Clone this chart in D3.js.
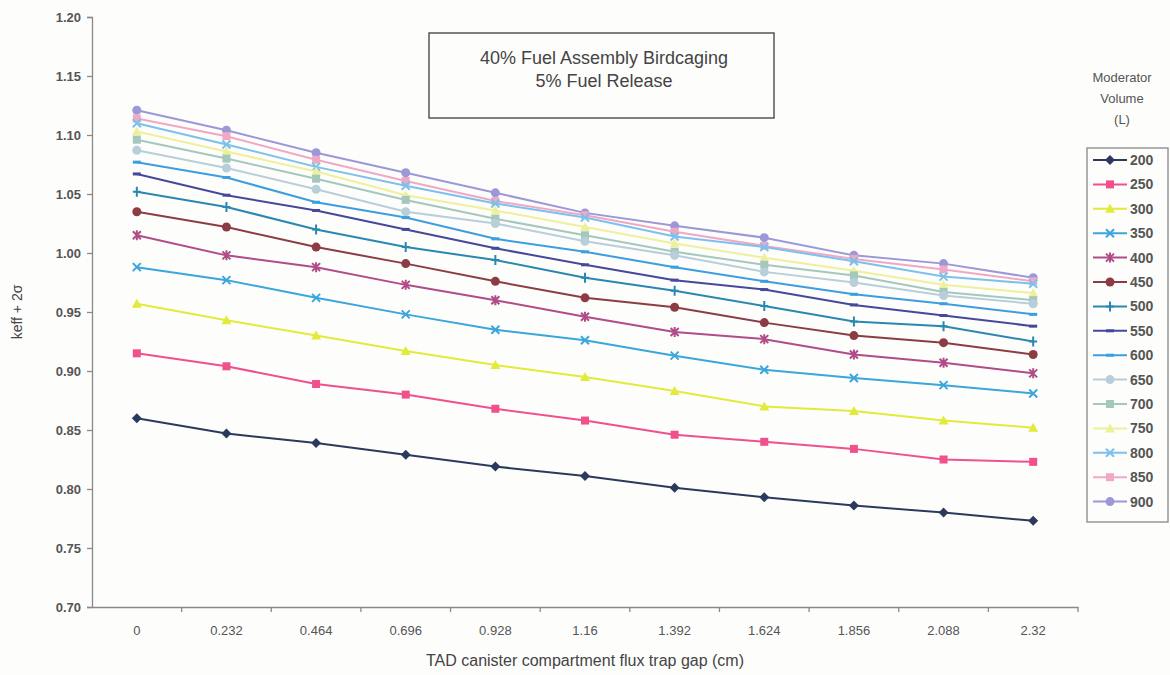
<!DOCTYPE html>
<html>
<head>
<meta charset="utf-8">
<script src="https://cdn.jsdelivr.net/npm/d3@7"></script>
<style>
  body { margin: 0; background: #fdfdfc; }
  svg { font-family: 'Liberation Sans', Arial, sans-serif; }
</style>
</head>
<body>
<div id="chart"></div>
<script>
// categories along x (flux trap gap, cm)
var gaps = ['0', '0.232', '0.464', '0.696', '0.928', '1.16', '1.392', '1.624', '1.856', '2.088', '2.32']
var yTicks = [0.70, 0.75, 0.80, 0.85, 0.90, 0.95, 1.00, 1.05, 1.10, 1.15, 1.20]

// moderator volumes (L)
var volumes = ['200', '250', '300', '350', '400', '450', '500', '550', '600', '650', '700', '750', '800', '850', '900']

// keff + 2 sigma, one array per moderator volume
var v200 = [0.860, 0.847, 0.839, 0.829, 0.819, 0.811, 0.801, 0.793, 0.786, 0.780, 0.773]
var v250 = [0.915, 0.904, 0.889, 0.880, 0.868, 0.858, 0.846, 0.840, 0.834, 0.825, 0.823]
var v300 = [0.957, 0.943, 0.930, 0.917, 0.905, 0.895, 0.883, 0.870, 0.866, 0.858, 0.852]
var v350 = [0.988, 0.977, 0.962, 0.948, 0.935, 0.926, 0.913, 0.901, 0.894, 0.888, 0.881]
var v400 = [1.015, 0.998, 0.988, 0.973, 0.960, 0.946, 0.933, 0.927, 0.914, 0.907, 0.898]
var v450 = [1.035, 1.022, 1.005, 0.991, 0.976, 0.962, 0.954, 0.941, 0.930, 0.924, 0.914]
var v500 = [1.052, 1.039, 1.020, 1.005, 0.994, 0.979, 0.968, 0.955, 0.942, 0.938, 0.925]
var v550 = [1.067, 1.049, 1.036, 1.020, 1.004, 0.990, 0.977, 0.969, 0.956, 0.947, 0.938]
var v600 = [1.077, 1.064, 1.043, 1.030, 1.012, 1.001, 0.988, 0.976, 0.965, 0.957, 0.948]
var v650 = [1.087, 1.072, 1.054, 1.035, 1.025, 1.010, 0.998, 0.984, 0.975, 0.964, 0.957]
var v700 = [1.096, 1.080, 1.063, 1.045, 1.029, 1.015, 1.001, 0.990, 0.981, 0.967, 0.960]
var v750 = [1.103, 1.086, 1.069, 1.049, 1.036, 1.022, 1.008, 0.996, 0.985, 0.973, 0.966]
var v800 = [1.110, 1.092, 1.073, 1.057, 1.042, 1.030, 1.014, 1.005, 0.993, 0.980, 0.974]
var v850 = [1.114, 1.099, 1.079, 1.061, 1.044, 1.032, 1.018, 1.006, 0.995, 0.986, 0.976]
var v900 = [1.121, 1.104, 1.085, 1.068, 1.051, 1.034, 1.023, 1.013, 0.998, 0.991, 0.979]

var allValues = [v200, v250, v300, v350, v400, v450, v500, v550, v600, v650, v700, v750, v800, v850, v900]

var colors = ['#2b3a5c', '#f0508c', '#e2ea3a', '#3aa6dc', '#b04c88', '#8c3c44', '#2a88b0', '#46489a',
  '#3c9ee0', '#b8cedb', '#a4c8bc', '#eef09c', '#7cc0ec', '#f0a8c4', '#9c98d8']
var markers = ['diamond', 'square', 'triangle', 'x', 'star', 'circle', 'plus', 'dash',
  'dash', 'circle', 'square', 'triangle', 'x', 'square', 'circle']

var series = volumes.map((v, i) => ({
  name: v,
  color: colors[i],
  marker: markers[i],
  values: allValues[i].map((d, j) => ({ gap: gaps[j], value: d }))
}))

var width = 1170
var height = 675
var margin = { top: 17, left: 92, right: 92, bottom: 68 }

var svg = d3.select('#chart')
  .append('svg')
  .attr('width', width)
  .attr('height', height)

var xScale = d3.scaleBand()
  .domain(gaps)
  .range([margin.left, width - margin.right])

var yScale = d3.scaleLinear()
  .domain([0.70, 1.20])
  .range([height - margin.bottom, margin.top])

var cx = d => xScale(d) + xScale.bandwidth() / 2

// y axis
var yAxis = d3.axisLeft(yScale)
  .tickValues(yTicks)
  .tickFormat(d3.format('.2f'))
  .tickSize(5)
  .tickPadding(6)
svg.append('g')
  .attr('class', 'axis y-axis')
  .attr('transform', `translate(${margin.left}, 0)`)
  .call(yAxis)

// x axis: labels at band centers, tick marks at band edges
var xAxis = d3.axisBottom(xScale)
  .tickSize(0)
  .tickPadding(19)
svg.append('g')
  .attr('class', 'axis x-axis')
  .attr('transform', `translate(0, ${height - margin.bottom})`)
  .call(xAxis)

svg.select('.x-axis')
  .selectAll('.edge-tick')
  .data(gaps.slice(1).concat(['end']))
  .enter()
  .append('line')
  .attr('class', 'edge-tick')
  .attr('x1', d => d === 'end' ? xScale.range()[1] : xScale(d))
  .attr('x2', d => d === 'end' ? xScale.range()[1] : xScale(d))
  .attr('y1', 0)
  .attr('y2', 5)
  .attr('stroke', '#8a8a8a')

svg.selectAll('.axis path, .axis line').attr('stroke', '#8a8a8a').attr('stroke-width', 1.3)
svg.selectAll('.axis text')
  .attr('fill', '#555')
  .attr('font-size', 13)
svg.selectAll('.y-axis text').attr('font-weight', 'bold')

// axis titles
svg.append('text')
  .text('TAD canister compartment flux trap gap (cm)')
  .attr('x', (margin.left + width - margin.right) / 2)
  .attr('y', 666)
  .attr('text-anchor', 'middle')
  .attr('font-size', 16)
  .attr('fill', '#444')

svg.append('text')
  .text('keff + 2σ')
  .attr('transform', `translate(22, ${yScale(0.95)}) rotate(-90)`)
  .attr('text-anchor', 'middle')
  .attr('font-size', 14)
  .attr('fill', '#444')

// marker drawing
function drawMarker(g, type, color) {
  var s = 4
  if (type === 'diamond') {
    g.append('path').attr('d', `M0,${-s - 1}L${s + 1},0L0,${s + 1}L${-s - 1},0Z`).attr('fill', color)
  } else if (type === 'square') {
    g.append('rect').attr('x', -s).attr('y', -s).attr('width', 2 * s).attr('height', 2 * s).attr('fill', color)
  } else if (type === 'triangle') {
    g.append('path').attr('d', `M0,${-s - 1}L${s + 1},${s}L${-s - 1},${s}Z`).attr('fill', color)
  } else if (type === 'circle') {
    g.append('circle').attr('r', s + 0.5).attr('fill', color)
  } else if (type === 'x') {
    g.append('path').attr('d', `M${-s},${-s}L${s},${s}M${-s},${s}L${s},${-s}`)
      .attr('stroke', color).attr('stroke-width', 2)
  } else if (type === 'star') {
    g.append('path').attr('d', `M${-s},${-s}L${s},${s}M${-s},${s}L${s},${-s}M0,${-s - 1}L0,${s + 1}`)
      .attr('stroke', color).attr('stroke-width', 2)
  } else if (type === 'plus') {
    g.append('path').attr('d', `M0,${-s - 1}L0,${s + 1}M${-s},0L${s},0`)
      .attr('stroke', color).attr('stroke-width', 2)
  } else if (type === 'dash') {
    g.append('path').attr('d', `M${-s},0L${s},0`).attr('stroke', color).attr('stroke-width', 3)
  }
}

var line = d3.line()
  .x(d => cx(d.gap))
  .y(d => yScale(d.value))

// draw lines (900 first so low volumes sit on top)
var seriesG = svg.selectAll('.series')
  .data(series.slice().reverse())
  .enter()
  .append('g')
  .attr('class', 'series')

seriesG.append('path')
  .attr('d', d => line(d.values))
  .attr('fill', 'none')
  .attr('stroke', d => d.color)
  .attr('stroke-width', 2)

seriesG.each(function(d) {
  var g = d3.select(this)
  d.values.forEach(p => {
    var m = g.append('g').attr('transform', `translate(${cx(p.gap)}, ${yScale(p.value)})`)
    drawMarker(m, d.marker, d.color)
  })
})

// title box
var titleBox = svg.append('g')
titleBox.append('rect')
  .attr('x', 429)
  .attr('y', 33)
  .attr('width', 345)
  .attr('height', 85)
  .attr('fill', '#fdfdfc')
  .attr('stroke', '#555')
  .attr('stroke-width', 1.5)
titleBox.append('text')
  .text('40% Fuel Assembly Birdcaging')
  .attr('x', 604)
  .attr('y', 64)
  .attr('text-anchor', 'middle')
  .attr('font-size', 18)
  .attr('fill', '#444')
titleBox.append('text')
  .text('5% Fuel Release')
  .attr('x', 604)
  .attr('y', 87)
  .attr('text-anchor', 'middle')
  .attr('font-size', 18)
  .attr('fill', '#444')

// legend
var legendTitle = ['Moderator', 'Volume', '(L)']
svg.selectAll('.legend-title')
  .data(legendTitle)
  .enter()
  .append('text')
  .attr('class', 'legend-title')
  .text(d => d)
  .attr('x', 1122)
  .attr('y', (d, i) => 82 + i * 21)
  .attr('text-anchor', 'middle')
  .attr('font-size', 13)
  .attr('fill', '#555')

var legendTop = 148
var legendStep = 24.4
svg.append('rect')
  .attr('x', 1087)
  .attr('y', legendTop)
  .attr('width', 81)
  .attr('height', legendStep * volumes.length + 8)
  .attr('fill', '#fdfdfc')
  .attr('stroke', '#888')
  .attr('stroke-width', 1.3)

var legendItems = svg.selectAll('.legend-item')
  .data(series)
  .enter()
  .append('g')
  .attr('class', 'legend-item')
  .attr('transform', (d, i) => `translate(1093, ${legendTop + 12 + i * legendStep})`)

legendItems.append('line')
  .attr('x1', 0)
  .attr('x2', 34)
  .attr('stroke', d => d.color)
  .attr('stroke-width', 2)

legendItems.each(function(d) {
  var m = d3.select(this).append('g').attr('transform', 'translate(17, 0)')
  drawMarker(m, d.marker, d.color)
})

legendItems.append('text')
  .text(d => d.name)
  .attr('x', 37)
  .attr('y', 5)
  .attr('font-size', 14)
  .attr('font-weight', 'bold')
  .attr('fill', '#555')
</script>
</body>
</html>
